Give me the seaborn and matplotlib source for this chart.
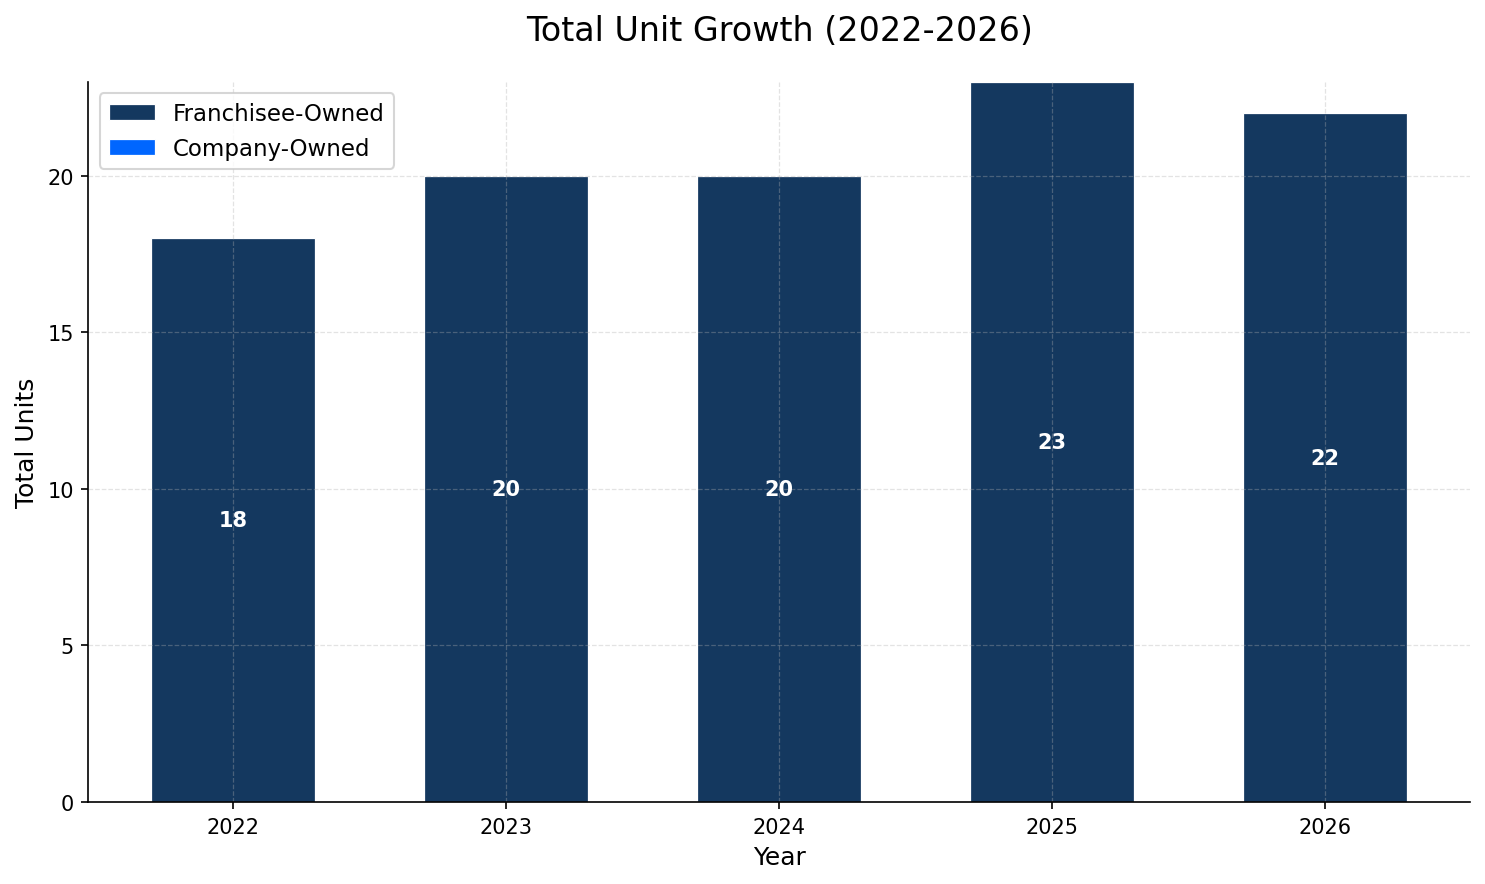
import matplotlib
matplotlib.use("Agg")
import matplotlib.pyplot as plt
import seaborn as sns
import pandas as pd

years = ["2022", "2023", "2024", "2025", "2026"]
franchisee = [18, 20, 20, 23, 22]
company = [0, 0, 0, 0, 0]

navy = "#14385f"
blue = "#0066ff"

df = pd.DataFrame({"Year": years, "Franchisee": franchisee, "Company": company})
df["Total"] = df["Franchisee"] + df["Company"]

fig, ax = plt.subplots(figsize=(10, 6), dpi=150)

# stacked look: totals in company colour underneath, franchisee part on top
sns.barplot(data=df, x="Year", y="Total", color=blue, width=0.6,
            saturation=1, label="Company-Owned", edgecolor="white",
            linewidth=0.6, ax=ax)
sns.barplot(data=df, x="Year", y="Franchisee", color=navy, width=0.6,
            saturation=1, label="Franchisee-Owned", edgecolor="white",
            linewidth=0.6, ax=ax)

for i, row in df.iterrows():
    ax.text(i, row["Total"] / 2, str(row["Total"]), ha="center", va="center",
            color="white", fontsize=10, fontweight="bold")

ax.set_xlim(-0.53, 4.53)
ax.set_ylim(0, 23)
ax.set_title("Total Unit Growth (2022-2026)", fontsize=16, pad=20)
ax.set_xlabel("Year", fontsize=12)
ax.set_ylabel("Total Units", fontsize=12)
ax.tick_params(labelsize=10)
ax.grid(True, linestyle="--", linewidth=0.6, alpha=0.35)
sns.despine(ax=ax)

handles, labels = ax.get_legend_handles_labels()
order = [labels.index("Franchisee-Owned"), labels.index("Company-Owned")]
ax.legend([handles[k] for k in order], [labels[k] for k in order],
          loc="upper left", fontsize=11)

plt.tight_layout()
plt.savefig("out.png", dpi=150, bbox_inches="tight")
plt.close()
